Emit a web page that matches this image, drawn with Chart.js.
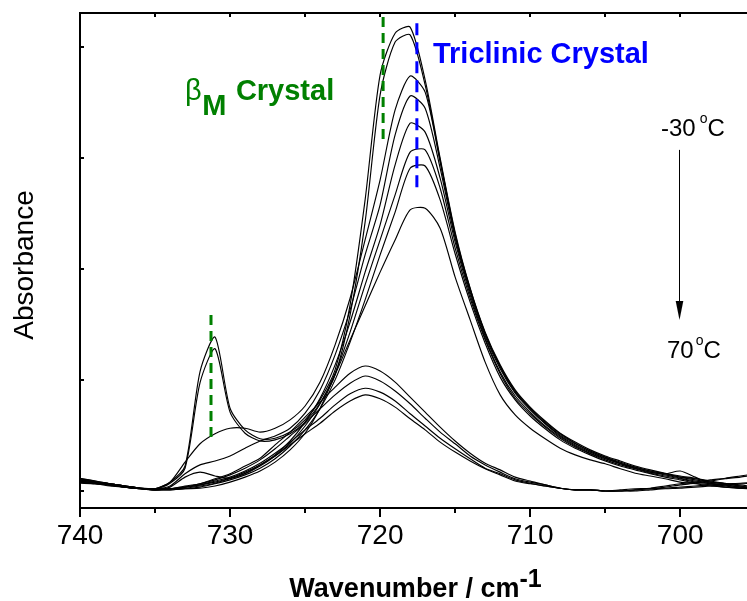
<!DOCTYPE html>
<html>
<head>
<meta charset="utf-8">
<title>Absorbance vs wavenumber</title>
<script src="https://cdn.jsdelivr.net/npm/chart.js@4.4.1/dist/chart.umd.min.js"></script>
<style>
html,body{margin:0;padding:0;background:#ffffff;overflow:hidden;}
canvas{display:block;}
</style>
</head>
<body>
<canvas id="chart" width="747" height="601"></canvas>
<script>
// ---------------- data (absorbance in mA.U.) ----------------
const wavenumbers = [740,739,738,737,736,735,734,733,732,731,730,729,728,727,726,725,724,723,722,721,720,719,718,717,716,715,714,713,712,711,710,709,708,707,706,705,704,703,702,701,700,699,698,697,696,695];

const spectrum01 = [20,16,13,9,5,4,16,45,215,277,149,110,94,95,106,128,164,218,335,524,749,824,835,740,599,466,365,286,227,182,151,126,104,88,74,63,54,45,38,32,27,23,18,14,11,7];
const spectrum02 = [18,14,11,7,5,4,14,41,195,256,142,104,90,92,103,124,158,209,317,484,713,808,821,731,596,463,364,284,225,180,149,124,103,86,72,61,52,43,36,31,25,22,16,13,9,5];
const spectrum03 = [22,18,13,9,5,4,16,52,85,103,113,113,106,113,128,153,196,263,347,452,560,686,747,718,592,459,362,283,223,178,148,122,101,85,72,61,50,43,36,31,25,20,16,13,9,5];
const spectrum04 = [16,13,11,7,5,4,9,31,47,54,63,77,90,99,113,140,182,245,326,425,515,641,711,689,581,455,358,279,220,176,146,121,99,83,70,59,50,41,34,31,36,25,14,11,7,4];
const spectrum05 = [20,16,13,9,5,2,7,25,34,27,23,32,47,65,90,124,167,227,304,394,479,587,662,646,563,448,353,275,214,171,142,117,97,81,68,58,49,41,34,29,23,18,14,11,7,5];
const spectrum06 = [18,14,11,7,4,2,4,5,9,14,22,31,45,63,86,117,157,212,286,371,452,533,610,614,545,437,347,272,211,167,139,115,95,79,67,56,47,40,32,27,22,16,13,9,5,4];
const spectrum07 = [14,13,9,7,4,2,2,4,7,13,20,29,41,58,81,110,148,200,268,344,425,502,581,585,524,427,340,266,205,164,135,112,92,77,65,54,45,38,31,25,20,14,11,7,5,4];
const spectrum08 = [16,13,11,7,4,2,2,4,5,9,16,25,36,52,74,104,149,209,272,333,394,452,506,509,473,385,308,232,173,137,113,94,77,65,56,49,40,32,27,22,16,13,9,7,5,4];
const spectrum09 = [23,18,13,9,5,4,4,9,13,22,31,45,59,83,106,133,160,187,212,225,216,196,169,142,115,90,68,50,38,25,18,11,5,2,2,0,2,4,5,9,13,16,20,23,27,31];
const spectrum10 = [22,16,13,9,5,4,4,7,13,20,29,41,56,76,99,122,148,173,194,207,198,180,157,131,106,85,63,47,34,22,16,11,5,2,2,0,0,2,4,7,11,14,18,22,25,29];
const spectrum11 = [20,16,11,7,5,4,4,7,11,18,25,36,50,68,88,110,131,155,175,185,178,162,139,117,95,76,58,41,31,20,14,9,5,2,2,0,0,2,4,5,7,9,11,13,14,16];
const spectrum12 = [18,14,11,7,4,2,4,7,11,16,23,34,47,63,83,103,122,144,162,173,166,151,130,110,88,70,54,40,29,18,13,9,5,2,2,0,0,0,2,4,5,7,9,11,13,14];

const spectra = [spectrum01,spectrum02,spectrum03,spectrum04,spectrum05,spectrum06,
                 spectrum07,spectrum08,spectrum09,spectrum10,spectrum11,spectrum12];

const xTickLabels = [700,710,720,730,740];
const xMinorTicks = [705,715,725,735];
const xTopTicks   = [700,705,710,715,720,725,730,735];
const yTickValues = [0,200,400,600,800];

// band markers (wavenumber, absorbance range)
const markBetaM      = [{x:731.27,y:317},{x:731.27,y:97}];
const markBetaMMain  = [{x:719.8,y:853},{x:719.8,y:632}];
const markTriclinic  = [{x:717.55,y:842},{x:717.55,y:542}];
const arrowPath      = [{x:700.05,y:614},{x:700.05,y:308}];

// ---------------- chart ----------------
const FONT = "'Liberation Sans', Arial, Helvetica, sans-serif";
Chart.defaults.font.family = FONT;

const datasets = [
  {label:'βM band', data:markBetaM, borderColor:'#008000', borderWidth:3, borderDash:[10,6], pointRadius:0, tension:0},
  {label:'βM band (main)', data:markBetaMMain, borderColor:'#008000', borderWidth:3, borderDash:[10,6], pointRadius:0, tension:0},
  {label:'Triclinic band', data:markTriclinic, borderColor:'#0000FF', borderWidth:3, borderDash:[12,7], pointRadius:0, tension:0}
];
spectra.forEach((s,i)=>{
  datasets.push({
    label:'Spectrum '+(i+1),
    data:s.map((v,j)=>({x:wavenumbers[j], y:v})),
    borderColor:'#000000', borderWidth:1.15, pointRadius:0, tension:0.25, fill:false
  });
});

const decor = {
  id:'decor',
  afterDraw(chart){
    const {ctx, chartArea:a, scales:{x,y}} = chart;
    ctx.save();
    ctx.strokeStyle = '#000'; ctx.fillStyle = '#000';
    ctx.lineWidth = 2;
    ctx.beginPath(); ctx.moveTo(a.left-1, a.top); ctx.lineTo(a.right, a.top); ctx.stroke();
    ctx.beginPath();
    xTickLabels.forEach(v=>{const p=Math.round(x.getPixelForValue(v)); ctx.moveTo(p,a.bottom); ctx.lineTo(p,a.bottom+9);});
    xMinorTicks.forEach(v=>{const p=Math.round(x.getPixelForValue(v)); ctx.moveTo(p,a.bottom); ctx.lineTo(p,a.bottom+5);});
    ctx.stroke();
    ctx.beginPath();
    xTopTicks.forEach(v=>{const p=Math.round(x.getPixelForValue(v)); ctx.moveTo(p,a.top); ctx.lineTo(p,a.top+4);});
    ctx.stroke();
    ctx.beginPath();
    yTickValues.forEach(v=>{const p=Math.round(y.getPixelForValue(v)); ctx.moveTo(a.left,p); ctx.lineTo(a.left+4,p);});
    ctx.stroke();

    // arrow
    const ax = Math.round(x.getPixelForValue(arrowPath[0].x))+0.5;
    const ay0 = y.getPixelForValue(arrowPath[0].y), ay1 = y.getPixelForValue(arrowPath[1].y);
    ctx.lineWidth = 1;
    ctx.beginPath(); ctx.moveTo(ax, ay0); ctx.lineTo(ax, ay1-16); ctx.stroke();
    ctx.beginPath(); ctx.moveTo(ax-3.8, ay1-19); ctx.lineTo(ax+3.8, ay1-19); ctx.lineTo(ax, ay1); ctx.closePath(); ctx.fill();

    const runs = (wx, wv, color, parts) => {
      let px = x.getPixelForValue(wx); const base = y.getPixelForValue(wv);
      ctx.fillStyle = color; ctx.textBaseline = 'alphabetic'; ctx.textAlign = 'left';
      parts.forEach(p=>{
        px += (p.gap||0);
        ctx.font = p.font;
        ctx.fillText(p.t, px, base + (p.dy||0));
        px += ctx.measureText(p.t).width;
      });
    };
    runs(733.0, 703.8, '#008000', [
      {t:'β', font:'29px '+FONT},
      {t:'M', font:'bold 29px '+FONT, dy:15, gap:0.5},
      {t:'Crystal', font:'bold 29px '+FONT, gap:9.5}
    ]);
    runs(716.48, 770.4, '#0000FF', [{t:'Triclinic Crystal', font:'bold 29px '+FONT}]);
    runs(701.28, 639, '#000', [
      {t:'-30', font:'24px '+FONT},
      {t:'o', font:'14px '+FONT, dy:-13, gap:4},
      {t:'C', font:'24px '+FONT, gap:0}
    ]);
    runs(700.88, 239.4, '#000', [
      {t:'70', font:'24px '+FONT},
      {t:'o', font:'14px '+FONT, dy:-13, gap:2},
      {t:'C', font:'24px '+FONT, gap:0}
    ]);

    ctx.fillStyle = '#000';
    ctx.save();
    ctx.translate(a.left-47, (a.top+a.bottom)/2+4.5);
    ctx.rotate(-Math.PI/2);
    ctx.font = '28px '+FONT; ctx.textAlign='center'; ctx.textBaseline='alphabetic';
    ctx.fillText('Absorbance', 0, 0);
    ctx.restore();
    ctx.font = 'bold 27px '+FONT;
    const main = 'Wavenumber / cm';
    const wMain = ctx.measureText(main).width;
    ctx.font = 'bold 25px '+FONT;
    const wSup = ctx.measureText('-1').width;
    const cx = (a.left+a.right)/2 + 2;
    let sx = cx - (wMain + wSup)/2;
    const by = a.bottom + 89;
    ctx.textAlign='left'; ctx.textBaseline='alphabetic';
    ctx.font = 'bold 27px '+FONT; ctx.fillText(main, sx, by);
    ctx.font = 'bold 25px '+FONT; ctx.fillText('-1', sx + wMain, by - 10);
    ctx.restore();
  }
};

new Chart(document.getElementById('chart'), {
  type:'line',
  data:{datasets},
  options:{
    responsive:false, animation:false, devicePixelRatio:1, events:[],
    layout:{padding:{top:13, right:0, bottom:0, left:0}},
    plugins:{legend:{display:false}, tooltip:{enabled:false}, title:{display:false}},
    scales:{
      x:{
        type:'linear', position:'bottom', reverse:true, min:695.55, max:740,
        afterBuildTicks:(s)=>{ s.ticks = xTickLabels.map(v=>({value:v})); },
        afterFit:(s)=>{ s.height = 93; },
        ticks:{display:true, color:'#000', font:{size:28, family:FONT}, padding:11, maxRotation:0, autoSkip:false},
        grid:{display:false, drawTicks:false, drawOnChartArea:false},
        border:{display:true, color:'#000', width:2}
      },
      y:{
        type:'linear', position:'left', min:-30.6, max:860.4,
        afterFit:(s)=>{ s.width = 80; },
        ticks:{display:false},
        grid:{display:false, drawTicks:false},
        border:{display:true, color:'#000', width:2}
      }
    }
  },
  plugins:[decor]
});
</script>
</body>
</html>
